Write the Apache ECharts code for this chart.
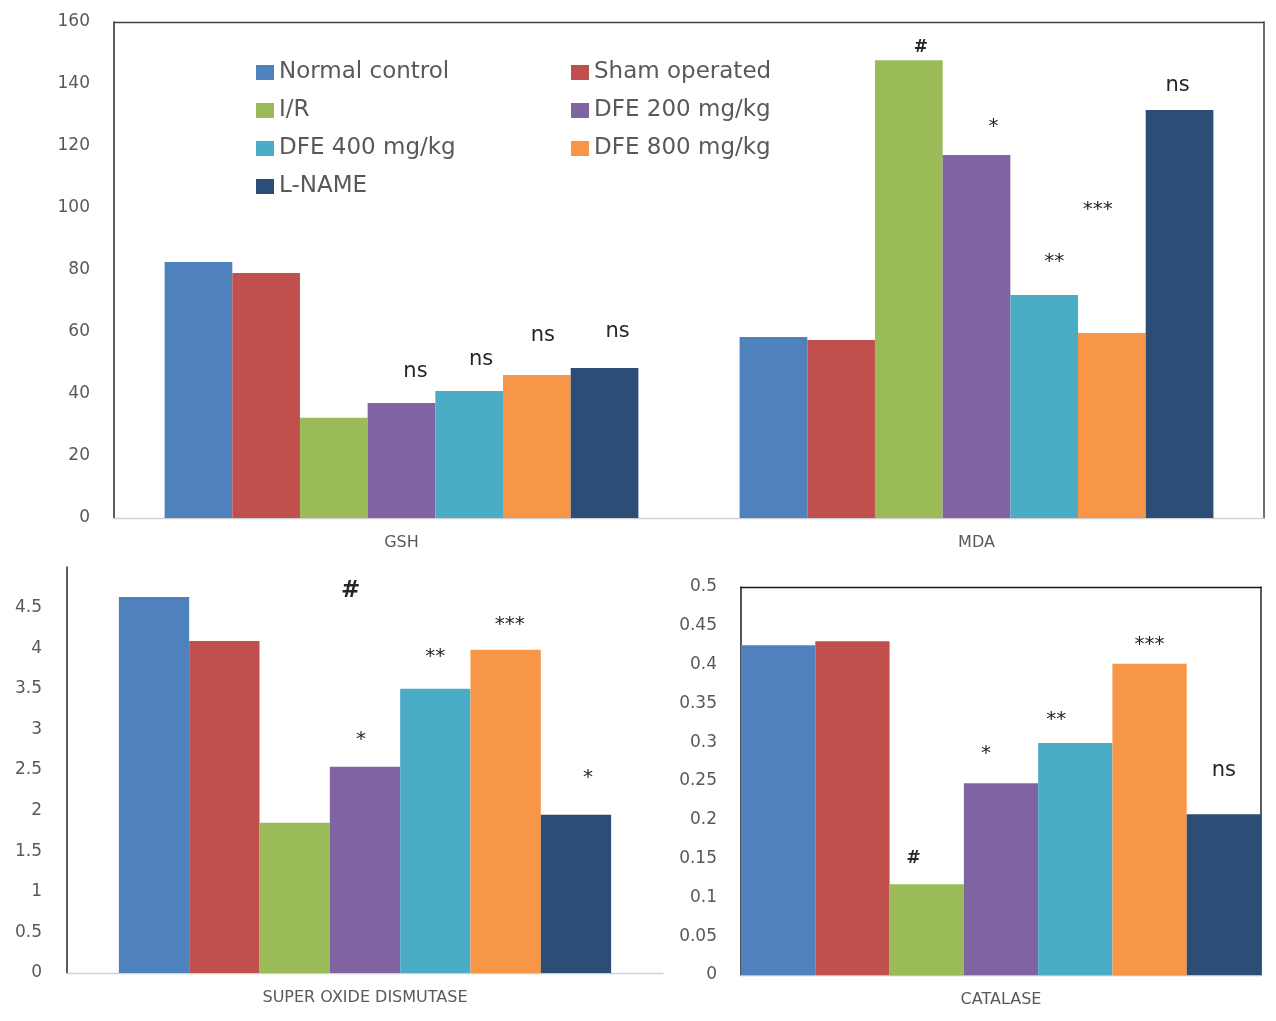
<!DOCTYPE html>
<html>
<head>
<meta charset="utf-8">
<script src="https://cdn.jsdelivr.net/npm/echarts@6/dist/echarts.min.js"></script>
<style>
html,body{margin:0;padding:0;background:#fff;}
#chart{width:1276px;height:1021px;}
</style>
</head>
<body>
<div id="chart"></div>
<script>
// ---------- data ----------
const groups = ['Normal control','Sham operated','I/R','DFE 200 mg/kg','DFE 400 mg/kg','DFE 800 mg/kg','L-NAME'];
const topCategories = ['GSH','MDA'];
const sodCategory = ['SUPER OXIDE DISMUTASE'];
const catCategory = ['CATALASE'];

const gshValues = [82.6, 79.0, 32.3, 37.1, 41.0, 46.1, 48.4];
const mdaValues = [58.4, 57.4, 147.7, 117.1, 71.9, 59.7, 131.6];
const sodValues = [4.63, 4.09, 1.85, 2.54, 3.50, 3.98, 1.95];
const catValues = [0.425, 0.430, 0.117, 0.247, 0.299, 0.401, 0.207];

// significance marks and the value level at which each is written
const gshMarks = ['', '', '', 'ns', 'ns', 'ns', 'ns'];
const gshMarkAt = [null, null, null, 47.1, 51.0, 58.7, 60.3];
const mdaMarks = ['', '', '#', '*', '**', '***', 'ns'];
const mdaMarkAt = [null, null, 151.6, 126.1, 82.6, 99.4, 139.4];
const sodMarks = ['', '', '#', '*', '**', '***', '*'];
const sodMarkAt = [null, null, 4.70, 2.87, 3.89, 4.29, 2.41];
const catMarks = ['', '', '#', '*', '**', '***', 'ns'];
const catMarkAt = [null, null, 0.150, 0.285, 0.329, 0.425, 0.263];

// tick labels
const topTicks = [0, 20, 40, 60, 80, 100, 120, 140, 160];
const sodTicks = [0, 0.5, 1, 1.5, 2, 2.5, 3, 3.5, 4, 4.5, 5];
const catTicks = [0, 0.05, 0.1, 0.15, 0.2, 0.25, 0.3, 0.35, 0.4, 0.45, 0.5];

// ---------- style ----------
const colors = ['#4F81BD','#C0504D','#9BBB59','#8064A2','#4BACC6','#F79646','#2C4D75'];
// horizontal nudges (px) of the significance marks, as placed in the original figure
const gshMarkDx = [0, 0, 0, 14, 12, 6, 13];
const mdaMarkDx = [0, 0, 12, 17, 10, -14, -2];
const sodMarkDx = [0, 0, 56, -4, 0, 4, 12];
const catMarkDx = [0, 0, -13, -15, -19, 0, 0];
const FONT = 'DejaVu Sans';
const TXT = '#595959';

function markFont(t, hashSize){
  if (t === '#') return {fontSize: hashSize, fontWeight: 'bold'};
  if (t === 'ns') return {fontSize: 21, fontWeight: 'normal'};
  return {fontSize: 20, fontWeight: 'normal'};
}
function markData(cats, marksList, atList, dxList, i, hashSize){
  const out = [];
  cats.forEach((c, k) => {
    const m = marksList[k][i];
    if (m) {
      const f = markFont(m, hashSize);
      out.push({name: m, coord: [c, atList[k][i]],
        label: {fontSize: f.fontSize, fontWeight: f.fontWeight, offset: [dxList[k][i], 0]}});
    }
  });
  return out;
}
function barSeries(xIdx, yIdx, cats, valuesList, marksList, atList, dxList, gap, hashSize){
  return groups.map((g, i) => ({
    name: g,
    type: 'bar',
    xAxisIndex: xIdx,
    yAxisIndex: yIdx,
    barGap: 0,
    barCategoryGap: gap,
    itemStyle: {color: colors[i]},
    data: valuesList.map(v => v[i]),
    markPoint: {
      symbol: 'circle',
      symbolSize: 0,
      silent: true,
      label: {show: true, position: 'inside', formatter: '{b}', color: '#262626', fontFamily: FONT},
      data: markData(cats, marksList, atList, dxList, i, hashSize)
    }
  }));
}
function valAxis(grid, ticks, pos, showLabels, lineColor, margin, showMax){
  return {
    type: 'value', gridIndex: grid, position: pos,
    min: ticks[0], max: ticks[ticks.length - 1], interval: ticks[1] - ticks[0],
    splitLine: {show: false},
    axisTick: {show: false},
    axisLine: {show: true, onZero: false, lineStyle: {color: lineColor, width: 1.5}},
    axisLabel: {show: showLabels, color: TXT, fontSize: 17, fontFamily: FONT, margin: margin || 24,
      showMaxLabel: showMax !== false,
      formatter: v => String(+v.toFixed(2))}
  };
}
function catAxis(grid, data, pos, showLabels, lineColor){
  return {
    type: 'category', gridIndex: grid, position: pos, data: data,
    axisTick: {show: false},
    axisLine: {show: true, onZero: false, lineStyle: {color: lineColor, width: 1.3}},
    axisLabel: {show: showLabels, color: TXT, fontSize: 16, fontFamily: FONT, margin: 17}
  };
}

const option = {
  animation: false,
  backgroundColor: '#ffffff',
  color: colors,
  textStyle: {fontFamily: FONT},
  legend: [
    {
      orient: 'vertical', left: 251, top: 56, itemGap: 15,
      itemWidth: 18, itemHeight: 15, icon: 'rect',
      textStyle: {fontSize: 23, color: TXT, fontFamily: FONT},
      data: ['Normal control', 'I/R', 'DFE 400 mg/kg', 'L-NAME']
    },
    {
      orient: 'vertical', left: 566, top: 56, itemGap: 15,
      itemWidth: 18, itemHeight: 15, icon: 'rect',
      textStyle: {fontSize: 23, color: TXT, fontFamily: FONT},
      data: ['Sham operated', 'DFE 200 mg/kg', 'DFE 800 mg/kg']
    }
  ],
  grid: [
    {left: 114, top: 22, right: 12, bottom: 503},
    {left: 67, top: 567, right: 613, bottom: 48},
    {left: 741, top: 587, right: 15, bottom: 46}
  ],
  xAxis: [
    catAxis(0, topCategories, 'bottom', true, '#d0d0d0'),
    catAxis(1, sodCategory, 'bottom', true, '#d0d0d0'),
    catAxis(2, catCategory, 'bottom', true, '#bfbfbf'),
    catAxis(0, topCategories, 'top', false, '#404040'),
    catAxis(2, catCategory, 'top', false, '#1a1a1a')
  ],
  yAxis: [
    valAxis(0, topTicks, 'left', true, '#262626', 24),
    valAxis(1, sodTicks, 'left', true, '#262626', 25, false),
    valAxis(2, catTicks, 'left', true, '#1a1a1a', 24),
    valAxis(0, topTicks, 'right', false, '#404040'),
    valAxis(2, catTicks, 'right', false, '#262626')
  ],
  series: [].concat(
    barSeries(0, 0, topCategories, [gshValues, mdaValues], [gshMarks, mdaMarks], [gshMarkAt, mdaMarkAt], [gshMarkDx, mdaMarkDx], '17.6%', 17),
    barSeries(1, 1, sodCategory, [sodValues], [sodMarks], [sodMarkAt], [sodMarkDx], '17.4%', 23),
    barSeries(2, 2, catCategory, [catValues], [catMarks], [catMarkAt], [catMarkDx], '0%', 17)
  )
};

const chart = echarts.init(document.getElementById('chart'), null, {renderer: 'canvas'});
chart.setOption(option);
</script>
</body>
</html>
